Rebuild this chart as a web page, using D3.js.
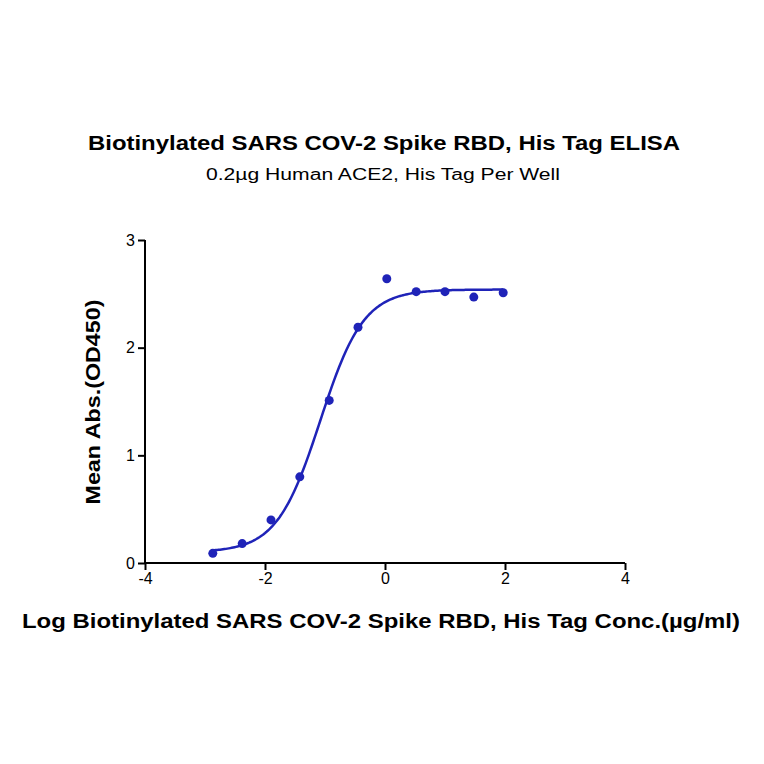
<!DOCTYPE html>
<html><head><meta charset="utf-8">
<script src="https://cdn.jsdelivr.net/npm/d3@7"></script>
<style>body{margin:0;background:#fff}</style>
</head><body><div id="chart"></div>
<script>
// measured points
var logConc = [-2.87, -2.38, -1.9, -1.42, -0.93, -0.45, 0.03, 0.52, 1.0, 1.48, 1.97];
var meanAbs = [0.09, 0.18, 0.40, 0.80, 1.51, 2.19, 2.64, 2.52, 2.52, 2.47, 2.51];
// four parameter fit
var fitBottom = 0.1, fitTop = 2.54, fitEC50 = -1.08, fitHill = 1.2;
var xTicks = [-4, -2, 0, 2, 4];
var yTicks = [0, 1, 2, 3];

var W = 764, H = 764;
var x = d3.scaleLinear().domain([-4, 4]).range([145, 625]);
var y = d3.scaleLinear().domain([0, 3]).range([563, 240]);

var svg = d3.select("#chart").append("svg").attr("width", W).attr("height", H);
var font = "Arial, 'Liberation Sans', sans-serif";

svg.append("text").attr("x", 384).attr("y", 150).attr("text-anchor", "middle")
  .attr("textLength", 592).attr("lengthAdjust", "spacingAndGlyphs")
  .style("font", "bold 20px " + font).text("Biotinylated SARS COV-2 Spike RBD, His Tag ELISA");
svg.append("text").attr("x", 383).attr("y", 180).attr("text-anchor", "middle")
  .attr("textLength", 354).attr("lengthAdjust", "spacingAndGlyphs")
  .style("font", "16px " + font).text("0.2µg Human ACE2, His Tag Per Well");

var fmt = function(d){ return String(d); };
var xAxis = svg.append("g").attr("transform", "translate(0,563)")
  .call(d3.axisBottom(x).tickValues(xTicks).tickSize(7).tickFormat(fmt));
var yAxis = svg.append("g").attr("transform", "translate(145,0)")
  .call(d3.axisLeft(y).tickValues(yTicks).tickSize(7).tickFormat(fmt));
[xAxis, yAxis].forEach(function(a){
  a.selectAll("path,line").attr("stroke", "#000").attr("stroke-width", 2);
  a.selectAll("text").style("font", "16px " + font).attr("fill", "#000");
});
xAxis.select(".domain").attr("d", "M145,0H625");
yAxis.select(".domain").attr("d", "M0,240V563");

svg.append("text").attr("x", 381).attr("y", 628).attr("text-anchor", "middle")
  .attr("textLength", 718).attr("lengthAdjust", "spacingAndGlyphs")
  .style("font", "bold 20px " + font).text("Log Biotinylated SARS COV-2 Spike RBD, His Tag Conc.(µg/ml)");
svg.append("text").attr("transform", "translate(100,402)rotate(-90)").attr("text-anchor", "middle")
  .attr("textLength", 205).attr("lengthAdjust", "spacingAndGlyphs")
  .style("font", "bold 20px " + font).text("Mean Abs.(OD450)");

var curveX = d3.range(0, 201).map(function(i){ return logConc[0] + i * (logConc[logConc.length-1] - logConc[0]) / 200; });
var line = d3.line()
  .x(function(d){ return x(d); })
  .y(function(d){ return y(fitBottom + (fitTop - fitBottom) / (1 + Math.pow(10, (fitEC50 - d) * fitHill))); });
svg.append("path").datum(curveX).attr("d", line)
  .attr("fill", "none").attr("stroke", "#1f23b8").attr("stroke-width", 2.5);

svg.selectAll("circle").data(logConc).enter().append("circle")
  .attr("cx", function(d){ return x(d); })
  .attr("cy", function(d, i){ return y(meanAbs[i]); })
  .attr("r", 4.5).attr("fill", "#1f23b8");
</script></body></html>
